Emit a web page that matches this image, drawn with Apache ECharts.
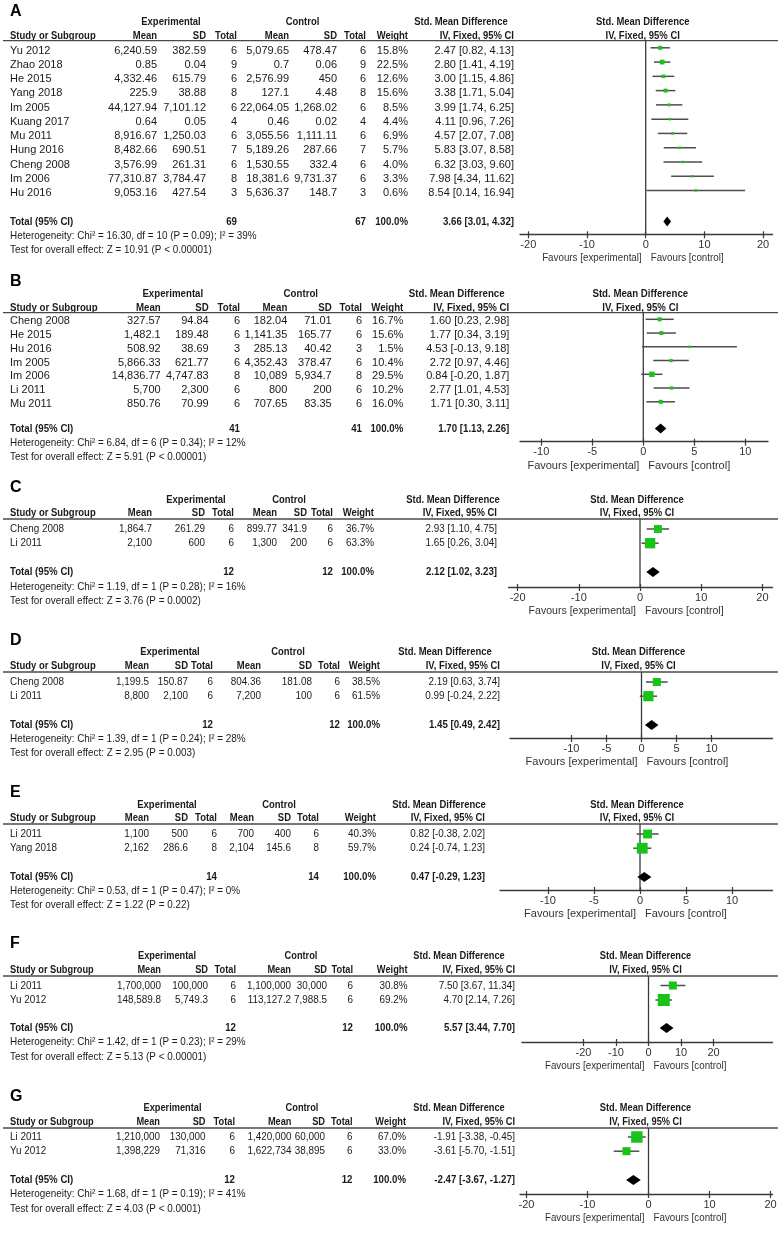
<!DOCTYPE html>
<html><head><meta charset="utf-8">
<script src="https://cdn.jsdelivr.net/npm/echarts@6/dist/echarts.min.js"></script>
<style>html,body{margin:0;padding:0;background:#fff}#c{width:780px;height:1240px}</style>
</head><body><div id="c"></div>
<script>
// ================= DATA =================
const favLeft = 'Favours [experimental]';
const favRight = 'Favours [control]';

// ---- Panel A ----
const studiesA = ['Yu 2012','Zhao 2018','He 2015','Yang 2018','Im 2005','Kuang 2017','Mu 2011','Hung 2016','Cheng 2008','Im 2006','Hu 2016'];
const expMeanA = [6240.59, 0.85, 4332.46, 225.9, 44127.94, 0.64, 8916.67, 8482.66, 3576.99, 77310.87, 9053.16];
const expSdA = [382.59, 0.04, 615.79, 38.88, 7101.12, 0.05, 1250.03, 690.51, 261.31, 3784.47, 427.54];
const expNA = [6, 9, 6, 8, 6, 4, 6, 7, 6, 8, 3];
const ctlMeanA = [5079.65, 0.7, 2576.99, 127.1, 22064.05, 0.46, 3055.56, 5189.26, 1530.55, 18381.6, 5636.37];
const ctlSdA = [478.47, 0.06, 450, 4.48, 1268.02, 0.02, 1111.11, 287.66, 332.4, 9731.37, 148.7];
const ctlNA = [6, 9, 6, 8, 6, 4, 6, 7, 6, 6, 3];
const weightA = [15.8, 22.5, 12.6, 15.6, 8.5, 4.4, 6.9, 5.7, 4.0, 3.3, 0.6];
const smdA = [2.47, 2.80, 3.00, 3.38, 3.99, 4.11, 4.57, 5.83, 6.32, 7.98, 8.54];
const loA = [0.82, 1.41, 1.15, 1.71, 1.74, 0.96, 2.07, 3.07, 3.03, 4.34, 0.14];
const hiA = [4.13, 4.19, 4.86, 5.04, 6.25, 7.26, 7.08, 8.58, 9.60, 11.62, 16.94];
const totalA = [69, 67, 100.0, 3.66, 3.01, 4.32];
const hetA = 'Heterogeneity: Chi\u00b2 = 16.30, df = 10 (P = 0.09); I\u00b2 = 39%';
const testA = 'Test for overall effect: Z = 10.91 (P < 0.00001)';
const ticksA = [-20, -10, 0, 10, 20];

// ---- Panel B ----
const studiesB = ['Cheng 2008','He 2015','Hu 2016','Im 2005','Im 2006','Li 2011','Mu 2011'];
const expMeanB = [327.57, 1482.1, 508.92, 5866.33, 14836.77, 5700, 850.76];
const expSdB = [94.84, 189.48, 38.69, 621.77, 4747.83, 2300, 70.99];
const expNB = [6, 6, 3, 6, 8, 6, 6];
const ctlMeanB = [182.04, 1141.35, 285.13, 4352.43, 10089, 800, 707.65];
const ctlSdB = [71.01, 165.77, 40.42, 378.47, 5934.7, 200, 83.35];
const ctlNB = [6, 6, 3, 6, 8, 6, 6];
const weightB = [16.7, 15.6, 1.5, 10.4, 29.5, 10.2, 16.0];
const smdB = [1.60, 1.77, 4.53, 2.72, 0.84, 2.77, 1.71];
const loB = [0.23, 0.34, -0.13, 0.97, -0.20, 1.01, 0.30];
const hiB = [2.98, 3.19, 9.18, 4.46, 1.87, 4.53, 3.11];
const totalB = [41, 41, 100.0, 1.70, 1.13, 2.26];
const hetB = 'Heterogeneity: Chi\u00b2 = 6.84, df = 6 (P = 0.34); I\u00b2 = 12%';
const testB = 'Test for overall effect: Z = 5.91 (P < 0.00001)';
const ticksB = [-10, -5, 0, 5, 10];

// ---- Panel C ----
const studiesC = ['Cheng 2008','Li 2011'];
const expMeanC = [1864.7, 2100];
const expSdC = [261.29, 600];
const expNC = [6, 6];
const ctlMeanC = [899.77, 1300];
const ctlSdC = [341.9, 200];
const ctlNC = [6, 6];
const weightC = [36.7, 63.3];
const smdC = [2.93, 1.65];
const loC = [1.10, 0.26];
const hiC = [4.75, 3.04];
const totalC = [12, 12, 100.0, 2.12, 1.02, 3.23];
const hetC = 'Heterogeneity: Chi\u00b2 = 1.19, df = 1 (P = 0.28); I\u00b2 = 16%';
const testC = 'Test for overall effect: Z = 3.76 (P = 0.0002)';
const ticksC = [-20, -10, 0, 10, 20];

// ---- Panel D ----
const studiesD = ['Cheng 2008','Li 2011'];
const expMeanD = [1199.5, 8800];
const expSdD = [150.87, 2100];
const expND = [6, 6];
const ctlMeanD = [804.36, 7200];
const ctlSdD = [181.08, 100];
const ctlND = [6, 6];
const weightD = [38.5, 61.5];
const smdD = [2.19, 0.99];
const loD = [0.63, -0.24];
const hiD = [3.74, 2.22];
const totalD = [12, 12, 100.0, 1.45, 0.49, 2.42];
const hetD = 'Heterogeneity: Chi\u00b2 = 1.39, df = 1 (P = 0.24); I\u00b2 = 28%';
const testD = 'Test for overall effect: Z = 2.95 (P = 0.003)';
const ticksD = [-10, -5, 0, 5, 10];

// ---- Panel E ----
const studiesE = ['Li 2011','Yang 2018'];
const expMeanE = [1100, 2162];
const expSdE = [500, 286.6];
const expNE = [6, 8];
const ctlMeanE = [700, 2104];
const ctlSdE = [400, 145.6];
const ctlNE = [6, 8];
const weightE = [40.3, 59.7];
const smdE = [0.82, 0.24];
const loE = [-0.38, -0.74];
const hiE = [2.02, 1.23];
const totalE = [14, 14, 100.0, 0.47, -0.29, 1.23];
const hetE = 'Heterogeneity: Chi\u00b2 = 0.53, df = 1 (P = 0.47); I\u00b2 = 0%';
const testE = 'Test for overall effect: Z = 1.22 (P = 0.22)';
const ticksE = [-10, -5, 0, 5, 10];

// ---- Panel F ----
const studiesF = ['Li 2011','Yu 2012'];
const expMeanF = [1700000, 148589.8];
const expSdF = [100000, 5749.3];
const expNF = [6, 6];
const ctlMeanF = [1100000, 113127.2];
const ctlSdF = [30000, 7988.5];
const ctlNF = [6, 6];
const weightF = [30.8, 69.2];
const smdF = [7.50, 4.70];
const loF = [3.67, 2.14];
const hiF = [11.34, 7.26];
const totalF = [12, 12, 100.0, 5.57, 3.44, 7.70];
const hetF = 'Heterogeneity: Chi\u00b2 = 1.42, df = 1 (P = 0.23); I\u00b2 = 29%';
const testF = 'Test for overall effect: Z = 5.13 (P < 0.00001)';
const ticksF = [-20, -10, 0, 10, 20];

// ---- Panel G ----
const studiesG = ['Li 2011','Yu 2012'];
const expMeanG = [1210000, 1398229];
const expSdG = [130000, 71316];
const expNG = [6, 6];
const ctlMeanG = [1420000, 1622734];
const ctlSdG = [60000, 38895];
const ctlNG = [6, 6];
const weightG = [67.0, 33.0];
const smdG = [-1.91, -3.61];
const loG = [-3.38, -5.70];
const hiG = [-0.45, -1.51];
const totalG = [12, 12, 100.0, -2.47, -3.67, -1.27];
const hetG = 'Heterogeneity: Chi\u00b2 = 1.68, df = 1 (P = 0.19); I\u00b2 = 41%';
const testG = 'Test for overall effect: Z = 4.03 (P < 0.0001)';
const ticksG = [-20, -10, 0, 10, 20];

// ================= LAYOUT (positions / styles only) =================
const LAYOUT = {
  A: {letterY:12, grpY:21.7, colY:35.7, ulY:40.7, row0:47.8, step:14.27, textDy:2.7, totalY:221.5, hetY:236, testY:249.5, axisY:234.3,
      axL:520, axR:772.5, zero:645.7, ppu:5.87,
      cols:[157,206,237,289,337,366,408], ci:514, grp:[171,302.5,461], sq:1.0, fs:11, sx:1.0, bsx:0.86, fsx:0.89},
  B: {letterY:282, grpY:294.3, colY:308.3, ulY:312.7, row0:319.3, step:13.75, textDy:2, totalY:428.5, hetY:443, testY:456.5, axisY:441.7,
      axL:520, axR:768, zero:643.3, ppu:10.2,
      cols:[160.7,208.7,240,287.3,331.7,362,403.3], ci:509.3, grp:[172.8,300.8,456.7], sq:1.0, fs:11, sx:1.0, bsx:0.88, fsx:1.0},
  C: {letterY:488, grpY:500, colY:513, ulY:519, row0:529, step:14.2, textDy:0, totalY:572, hetY:587, testY:601, axisY:587,
      axL:508.5, axR:772.5, zero:640, ppu:6.12,
      cols:[152,205,234,277,307,333,374], ci:497, grp:[196,289,453], sq:1.3, fs:11.5, sx:0.86, bsx:0.86, fsx:0.96},
  D: {letterY:641, grpY:652, colY:666, ulY:672, row0:682, step:14.2, textDy:0, totalY:725, hetY:739, testY:753, axisY:738,
      axL:510, axR:772.5, zero:641.5, ppu:7.0,
      cols:[149,188,213,261,312,340,380], ci:500, grp:[170,288,445], sq:1.3, fs:11.5, sx:0.86, bsx:0.86, fsx:1.0},
  E: {letterY:793, grpY:805, colY:818, ulY:824, row0:834, step:14.2, textDy:0, totalY:877, hetY:891, testY:905, axisY:890,
      axL:500, axR:772.5, zero:640, ppu:9.2,
      cols:[149,188,217,254,291,319,376], ci:485, grp:[167,279,439], sq:1.4, fs:11.5, sx:0.86, bsx:0.86, fsx:1.0},
  F: {letterY:944, grpY:956, colY:970, ulY:976, row0:985.5, step:14.5, textDy:0, totalY:1028, hetY:1042, testY:1057, axisY:1042,
      axL:522, axR:772.5, zero:648.5, ppu:3.25,
      cols:[161,208,236,291,327,353,407.5], ci:515, grp:[167,301,459], sq:1.45, fs:11.5, sx:0.86, bsx:0.84, fsx:0.89},
  G: {letterY:1097, grpY:1108, colY:1122, ulY:1128, row0:1137, step:14.2, textDy:0, totalY:1180, hetY:1194, testY:1209, axisY:1194,
      axL:520, axR:772.5, zero:648.5, ppu:6.1,
      cols:[160,205.5,235,291.5,325,352.5,406], ci:515, grp:[172.5,302,459], sq:1.4, fs:11.5, sx:0.86, bsx:0.84, fsx:0.89}
};
const FONT = '"Liberation Sans", Arial, Helvetica, sans-serif';
const TXT = '#1a1a1a';
const GREEN = '#19c419';
const LINE = '#4d4d4d';

// ================= HELPERS =================
function fmt(v){
  const s = String(v); const neg = s[0] === '-'; const t = neg ? s.slice(1) : s;
  const parts = t.split('.');
  const ip = parts[0].replace(/\B(?=(\d{3})+(?!\d))/g, ',');
  return (neg ? '-' : '') + ip + (parts.length > 1 ? '.' + parts[1] : '');
}
const f2 = v => v.toFixed(2);
const ciStr = (e, l, h) => f2(e) + ' [' + f2(l) + ', ' + f2(h) + ']';

function mk(id, studies, em, es, en, cm, cs, cn, w, smd, lo, hi, tot, het, test, ticks){
  return {id, studies, em, es, en, cm, cs, cn, w, smd, lo, hi, tot, het, test, ticks, L: LAYOUT[id]};
}
const PANELS = [
  mk('A', studiesA, expMeanA, expSdA, expNA, ctlMeanA, ctlSdA, ctlNA, weightA, smdA, loA, hiA, totalA, hetA, testA, ticksA),
  mk('B', studiesB, expMeanB, expSdB, expNB, ctlMeanB, ctlSdB, ctlNB, weightB, smdB, loB, hiB, totalB, hetB, testB, ticksB),
  mk('C', studiesC, expMeanC, expSdC, expNC, ctlMeanC, ctlSdC, ctlNC, weightC, smdC, loC, hiC, totalC, hetC, testC, ticksC),
  mk('D', studiesD, expMeanD, expSdD, expND, ctlMeanD, ctlSdD, ctlND, weightD, smdD, loD, hiD, totalD, hetD, testD, ticksD),
  mk('E', studiesE, expMeanE, expSdE, expNE, ctlMeanE, ctlSdE, ctlNE, weightE, smdE, loE, hiE, totalE, hetE, testE, ticksE),
  mk('F', studiesF, expMeanF, expSdF, expNF, ctlMeanF, ctlSdF, ctlNF, weightF, smdF, loF, hiF, totalF, hetF, testF, ticksF),
  mk('G', studiesG, expMeanG, expSdG, expNG, ctlMeanG, ctlSdG, ctlNG, weightG, smdG, loG, hiG, totalG, hetG, testG, ticksG)
];

function txt(x, y, s, align, opt){
  opt = opt || {};
  return {type:'text', x:x, y:y, scaleX: opt.sx || 1, silent:true,
    style:{text:s, x:0, y:0, align:align, verticalAlign:'middle', fill: opt.fill || TXT,
      fontSize: opt.fs || 11, fontFamily: FONT, fontWeight: opt.bold ? 'bold' : 'normal'}};
}

// ================= OPTION =================
const grids = [], xAxes = [], yAxes = [], series = [];

PANELS.forEach((P, i) => {
  const L = P.L;
  const toRow = py => (py - L.row0) / L.step;
  const yMin = toRow(L.ulY), yMax = toRow(L.axisY);
  const xMin = (L.axL - L.zero) / L.ppu, xMax = (L.axR - L.zero) / L.ppu;

  grids.push({left:L.axL, top:L.ulY, width:L.axR - L.axL, height:L.axisY - L.ulY, containLabel:false});
  xAxes.push({gridIndex:i, type:'value', min:xMin, max:xMax, position:'bottom',
    axisLine:{show:true, onZero:false, lineStyle:{color:'#3a3a3a', width:1.3}},
    axisTick:{show:true, customValues:P.ticks, length:4, lineStyle:{color:'#3a3a3a', width:1.2}},
    axisLabel:{show:true, customValues:P.ticks, margin:5, fontSize:11, color:'#333', fontFamily:FONT},
    splitLine:{show:false}});
  xAxes.push({gridIndex:i, type:'value', min:xMin, max:xMax, position:'bottom',
    axisLine:{show:false, onZero:false},
    axisTick:{show:true, inside:true, customValues:P.ticks, length:3, lineStyle:{color:'#3a3a3a', width:1.2}},
    axisLabel:{show:false}, splitLine:{show:false}});
  yAxes.push({gridIndex:i, type:'value', inverse:true, min:yMin, max:yMax, show:false});

  const xi = 2 * i, yi = i;

  // zero line
  series.push({type:'line', xAxisIndex:xi, yAxisIndex:yi, data:[[0, yMin], [0, yMax]], symbol:'none', silent:true,
    lineStyle:{color:'#3a3a3a', width:1.3}, z:2});

  // study markers
  series.push({type:'custom', xAxisIndex:xi, yAxisIndex:yi, clip:false, silent:true, z:5,
    data: P.studies.map((s, k) => [P.lo[k], P.hi[k], P.smd[k], k, P.w[k]]),
    encode:{x:[0,1,2], y:3},
    renderItem: function(params, api){
      const lo = api.value(0), hi = api.value(1), e = api.value(2), k = api.value(3), w = api.value(4);
      const p0 = api.coord([lo, k]), p1 = api.coord([hi, k]), pc = api.coord([e, k]);
      const s = Math.max(2.5, L.sq * Math.sqrt(w));
      return {type:'group', children:[
        {type:'line', shape:{x1:p0[0], y1:p0[1], x2:p1[0], y2:p1[1]}, style:{stroke:LINE, lineWidth:1.5}},
        {type:'rect', shape:{x:pc[0] - s/2, y:pc[1] - s/2, width:s, height:s}, style:{fill:GREEN}}
      ]};
    }});

  // pooled diamond
  const totRow = toRow(L.totalY);
  series.push({type:'custom', xAxisIndex:xi, yAxisIndex:yi, clip:false, silent:true, z:5,
    data: [[P.tot[4], P.tot[5], P.tot[3], totRow]],
    encode:{x:[0,1,2], y:3},
    renderItem: function(params, api){
      const a = api.coord([api.value(0), api.value(3)]), b = api.coord([api.value(1), api.value(3)]), c = api.coord([api.value(2), api.value(3)]);
      const h = 5;
      return {type:'polygon', shape:{points:[[a[0], a[1]], [c[0], c[1] - h], [b[0], b[1]], [c[0], c[1] + h]]}, style:{fill:'#000'}};
    }});

  // table rows
  const rows = [];
  rows.push({kind:'letter', v:toRow(L.letterY)});
  rows.push({kind:'grp', v:toRow(L.grpY)});
  rows.push({kind:'col', v:toRow(L.colY)});
  rows.push({kind:'rule', v:yMin});
  P.studies.forEach((s, k) => rows.push({kind:'study', v:k, k:k}));
  rows.push({kind:'total', v:totRow});
  rows.push({kind:'het', v:toRow(L.hetY)});
  rows.push({kind:'test', v:toRow(L.testY)});
  rows.push({kind:'fav', v:toRow(L.axisY + 24)});

  const bold = {bold:true, sx:L.bsx, fs:11};
  const reg = {fs:L.fs, sx:L.sx};
  const sum = {fs:11, sx:0.9};
  const sumB = {fs:11, sx:0.88, bold:true};

  series.push({type:'custom', xAxisIndex:xi, yAxisIndex:yi, clip:false, silent:true, z:10,
    data: rows.map((r, j) => [0, r.v, j]),
    encode:{x:0, y:1},
    renderItem: function(params, api){
      const r = rows[api.value(2)];
      const pt = api.coord([0, r.v]);
      const zx = pt[0];
      let y = pt[1];
      const C = L.cols;
      const ch = [];
      if (r.kind === 'letter') {
        ch.push(txt(10, y, P.id, 'left', {bold:true, fs:16, fill:'#000'}));
      } else if (r.kind === 'grp') {
        ch.push(txt(L.grp[0], y, 'Experimental', 'center', bold));
        ch.push(txt(L.grp[1], y, 'Control', 'center', bold));
        ch.push(txt(L.grp[2], y, 'Std. Mean Difference', 'center', bold));
        ch.push(txt(zx - 3, y, 'Std. Mean Difference', 'center', bold));
      } else if (r.kind === 'col') {
        ch.push(txt(10, y, 'Study or Subgroup', 'left', bold));
        const hd = ['Mean','SD','Total','Mean','SD','Total','Weight'];
        hd.forEach((h, c) => ch.push(txt(C[c], y, h, 'right', bold)));
        ch.push(txt(L.ci, y, 'IV, Fixed, 95% CI', 'right', bold));
        ch.push(txt(zx - 3, y, 'IV, Fixed, 95% CI', 'center', bold));
      } else if (r.kind === 'rule') {
        ch.push({type:'line', shape:{x1:3, y1:y, x2:778, y2:y}, style:{stroke:'#4a4a4a', lineWidth:1.3}});
      } else if (r.kind === 'study') {
        const k = r.k; y += L.textDy;
        ch.push(txt(10, y, P.studies[k], 'left', reg));
        const vals = [fmt(P.em[k]), fmt(P.es[k]), String(P.en[k]), fmt(P.cm[k]), fmt(P.cs[k]), String(P.cn[k]), P.w[k].toFixed(1) + '%'];
        vals.forEach((s, c) => ch.push(txt(C[c], y, s, 'right', reg)));
        ch.push(txt(L.ci, y, ciStr(P.smd[k], P.lo[k], P.hi[k]), 'right', reg));
      } else if (r.kind === 'total') {
        ch.push(txt(10, y, 'Total (95% CI)', 'left', sumB));
        ch.push(txt(C[2], y, String(P.tot[0]), 'right', sumB));
        ch.push(txt(C[5], y, String(P.tot[1]), 'right', sumB));
        ch.push(txt(C[6], y, P.tot[2].toFixed(1) + '%', 'right', sumB));
        ch.push(txt(L.ci, y, ciStr(P.tot[3], P.tot[4], P.tot[5]), 'right', sumB));
      } else if (r.kind === 'het') {
        ch.push(txt(10, y, P.het, 'left', sum));
      } else if (r.kind === 'test') {
        ch.push(txt(10, y, P.test, 'left', sum));
      } else if (r.kind === 'fav') {
        ch.push(txt(zx - 4, y, favLeft, 'right', {fs:11, sx:L.fsx, fill:'#333'}));
        ch.push(txt(zx + 5, y, favRight, 'left', {fs:11, sx:L.fsx, fill:'#333'}));
      }
      return {type:'group', children:ch};
    }});
});

const chart = echarts.init(document.getElementById('c'), null, {renderer:'canvas'});
chart.setOption({
  animation:false,
  backgroundColor:'#fff',
  grid:grids, xAxis:xAxes, yAxis:yAxes, series:series
});
</script>
</body></html>
